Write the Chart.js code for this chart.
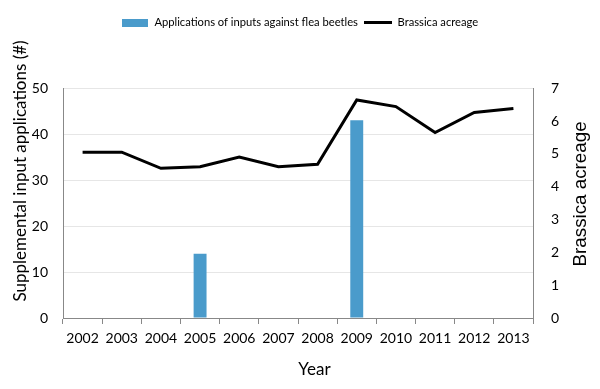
<!DOCTYPE html>
<html>
<head>
<meta charset="utf-8">
<script src="https://cdn.jsdelivr.net/npm/chart.js@4/dist/chart.umd.min.js"></script>
<style>
html,body{margin:0;padding:0;background:#fff;}
#wrap{width:600px;height:389px;position:relative;}
</style>
</head>
<body>
<div id="wrap"><canvas id="c" width="600" height="389"></canvas></div>
<script>
const years = ['2002','2003','2004','2005','2006','2007','2008','2009','2010','2011','2012','2013'];
const applications = [null,null,null,14,null,null,null,43,null,null,null,null];
const acreage = [5.05,5.05,4.56,4.61,4.90,4.61,4.68,6.64,6.44,5.65,6.26,6.38];
const leftTicks = [0,10,20,30,40,50];
const rightTicks = [0,1,2,3,4,5,6,7];

const FONT = 'Lato, "Open Sans", sans-serif';
const barColor = '#4a9bcb';
const titles = {
  x:'Year',
  left:'Supplemental input applications (#)',
  right:'Brassica acreage'
};

function makeSwatch(w,h,color){
  const c=document.createElement('canvas');c.width=w;c.height=h;
  const g=c.getContext('2d');g.fillStyle=color;g.fillRect(0,0,w,h);return c;
}
const barSwatch = makeSwatch(26,8,barColor);
const lineSwatch = makeSwatch(28,3,'#000');

const legendGap = {
  id:'legendGap',
  beforeInit(chart){
    const lg = chart.legend;
    if(!lg) return;
    const orig = lg.fit;
    lg.fit = function(){ orig.call(this); this.height += 50; };
  }
};
function drawText(ctx,text,x,y,rot,font){
  ctx.save();
  ctx.translate(x,y);
  if(rot) ctx.rotate(rot);
  ctx.fillStyle='#000';
  ctx.font=font;
  ctx.textAlign='center';ctx.textBaseline='middle';
  ctx.fillText(text,0,0);
  ctx.restore();
}
const axisTitles = {
  id:'axisTitles',
  afterDraw(chart){
    const ctx=chart.ctx, a=chart.chartArea;
    drawText(ctx,titles.left,20.5,a.top+(a.bottom-a.top)*0.36,-Math.PI/2,'17px '+FONT);
    drawText(ctx,titles.right,581,a.top+(a.bottom-a.top)*0.46,-Math.PI/2,'18.8px "Liberation Sans", Arial, sans-serif');
    drawText(ctx,titles.x,a.left+(a.right-a.left)*0.535,370,0,'17px '+FONT);
  }
};

new Chart(document.getElementById('c'),{
  data:{
    labels: years,
    datasets:[
      {type:'bar',label:'Applications of inputs against flea beetles',data:applications,
       backgroundColor:barColor,yAxisID:'y',barPercentage:0.33,categoryPercentage:1,order:2,
       pointStyle:barSwatch},
      {type:'line',label:'Brassica acreage',data:acreage,borderColor:'#000',backgroundColor:'#000',
       borderWidth:3,pointRadius:0,tension:0,yAxisID:'y1',order:1,pointStyle:lineSwatch}
    ]
  },
  plugins:[legendGap,axisTitles],
  options:{
    responsive:false,animation:false,
    layout:{padding:{top:10,left:8,right:8,bottom:6}},
    plugins:{
      legend:{display:true,position:'top',
        labels:{usePointStyle:true,pointStyleWidth:27,boxHeight:10,padding:7,color:'#000',
          font:{family:FONT,size:11.2},
          sort:(a,b)=>a.datasetIndex-b.datasetIndex}},
      tooltip:{enabled:false}
    },
    scales:{
      x:{
        grid:{display:true,drawOnChartArea:false,offset:true,tickLength:6,color:'#888',tickColor:'#888'},
        border:{display:true,color:'#888',width:1},
        ticks:{color:'#000',font:{family:FONT,size:14},padding:6,maxRotation:0},
        title:{display:false},
        afterFit(s){s.height=65;}
      },
      y:{
        position:'left',min:0,max:50,
        afterBuildTicks(s){s.ticks=leftTicks.map(v=>({value:v}));},
        grid:{color:'#e6e6e6',drawTicks:false},
        border:{display:true,color:'#888',width:1},
        ticks:{color:'#000',font:{family:FONT,size:14},padding:15},
        title:{display:false},
        afterFit(s){s.width=55;}
      },
      y1:{
        position:'right',min:0,max:7,
        afterBuildTicks(s){s.ticks=rightTicks.map(v=>({value:v}));},
        grid:{drawOnChartArea:false,drawTicks:false},
        border:{display:true,color:'#888',width:1},
        ticks:{color:'#000',font:{family:FONT,size:14},padding:18},
        title:{display:false},
        afterFit(s){s.width=59;}
      }
    }
  }
});
</script>
</body>
</html>
